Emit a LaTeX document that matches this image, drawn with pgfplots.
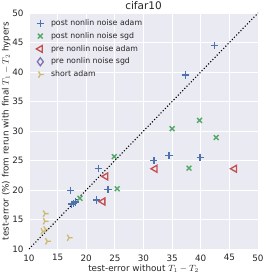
\documentclass[border=0pt]{standalone}
\usepackage{pgfplots}
\pgfplotsset{compat=1.18}
\usepackage{fontspec}
\setmainfont{DejaVu Sans}
\definecolor{bg}{HTML}{EAEAF2}
\definecolor{sbblue}{HTML}{4C72B0}
\definecolor{sbgreen}{HTML}{55A868}
\definecolor{sbred}{HTML}{C44E52}
\definecolor{sbpurple}{HTML}{8172B2}
\definecolor{sbyellow}{HTML}{CCB974}
\definecolor{txt}{HTML}{262626}
\pgfdeclareplotmark{triright}{%
  \pgfpathmoveto{\pgfpointorigin}\pgfpathlineto{\pgfpointpolar{0}{\pgfplotmarksize}}%
  \pgfpathmoveto{\pgfpointorigin}\pgfpathlineto{\pgfpointpolar{120}{\pgfplotmarksize}}%
  \pgfpathmoveto{\pgfpointorigin}\pgfpathlineto{\pgfpointpolar{240}{\pgfplotmarksize}}%
  \pgfusepathqstroke}
\begin{document}
\begin{tikzpicture}
\begin{axis}[name=ax,
  scale only axis, width=229pt, height=236pt,
  xmin=10, xmax=50, ymin=10, ymax=50,
  xtick={10,15,...,50}, ytick={10,15,...,50},
  axis background/.style={fill=bg},
  axis line style={draw=none},
  major tick length=0pt,
  grid=major, grid style={white, line width=0.9pt},
  tick label style={font=\fontsize{8.8}{9}\selectfont, text=txt},
  /pgf/number format/assume math mode=true,
  xticklabel style={yshift=-2pt},
  yticklabel style={xshift=-2pt},
  xlabel={test-error without $T_1-T_2$},
  ylabel={test-error (\%) from rerun with final $T_1-T_2$ hypers},
  label style={font=\fontsize{8.8}{9}\selectfont, text=txt},
  xlabel style={yshift=3pt},
  ylabel style={yshift=-5pt},
  title={cifar10},
  title style={font=\fontsize{10.5}{11}\selectfont, text=txt, yshift=-6pt},
  legend style={at={(0.015,0.99)}, anchor=north west, draw=none, fill=none,
    font=\fontsize{7.8}{9}\selectfont, text=txt, row sep=1.4pt},
  legend cell align=left,
  legend image code/.code={\path (-4pt,0pt) (8pt,0pt); \draw[#1] plot coordinates {(0pt,0pt)};},
]
\addplot[only marks, sbblue, mark=+, mark size=3.6pt, line width=1.4pt] coordinates {
(42.4,44.5) (37.3,39.5) (31.8,25.0) (34.45,25.8) (39.9,25.55) (22.1,23.6)
(17.3,19.9) (23.8,20.1) (21.8,18.3) (17.45,17.6) (17.8,17.75) (18.15,17.95)};
\addlegendentry{post nonlin noise adam}
\addplot[only marks, sbgreen, mark=x, mark size=3.4pt, line width=1.4pt] coordinates {
(35.0,30.4) (39.8,31.8) (42.7,28.9) (37.95,23.7) (24.9,25.65) (25.4,20.2) (18.9,18.6)};
\addlegendentry{post nonlin noise sgd}
\addplot[only marks, sbred, mark=triangle, mark size=4pt, line width=1.3pt, mark options={rotate=90, fill=none}] coordinates {
(23.4,22.3) (22.9,18.05) (32.0,23.6) (45.9,23.6)};
\addlegendentry{pre nonlin noise adam}
\addlegendimage{only marks, sbpurple, mark=diamond, mark size=4pt, line width=1.3pt, mark options={fill=none}}
\addlegendentry{pre nonlin noise sgd}
\addplot[only marks, sbyellow, mark=triright, mark size=3.6pt, line width=1.3pt] coordinates {
(12.8,16.0) (12.8,14.7) (12.9,13.3) (12.4,13.0) (13.2,11.3) (17.0,11.9)};
\addlegendentry{short adam}
\addplot[black, dotted, line width=1.1pt, forget plot] coordinates {(10,10) (50,50)};
\end{axis}
\pgfresetboundingbox
\path[use as bounding box] ([shift={(-29pt,-29pt)}]ax.south west) rectangle ([shift={(8pt,13pt)}]ax.north east);
\end{tikzpicture}
\end{document}
